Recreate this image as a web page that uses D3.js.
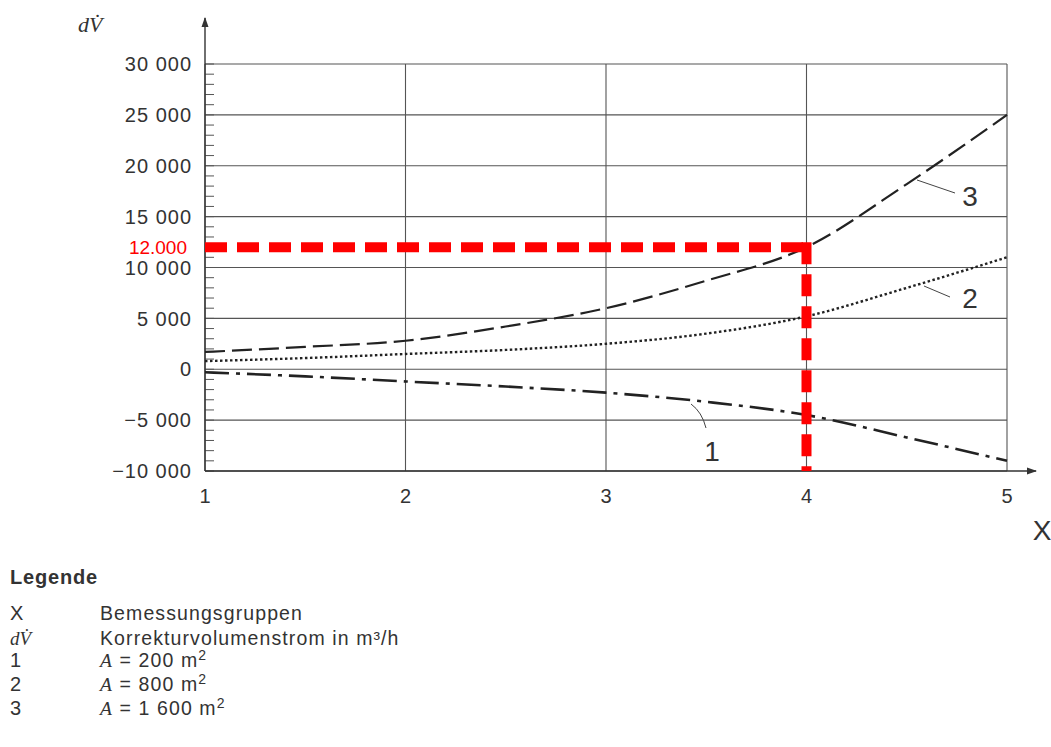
<!DOCTYPE html>
<html>
<head>
<meta charset="utf-8">
<script src="https://cdn.jsdelivr.net/npm/d3@7"></script>
<style>
  body { margin: 0; background: #fff; }
  svg { font-family: "Liberation Sans", Arial, sans-serif; }
</style>
</head>
<body>
<svg id="chart" width="1051" height="747"></svg>
<script>
// data
const xValues = [1, 1.5, 2, 2.5, 3, 3.5, 4, 4.5, 5];
const curve1 = [-300, -700, -1200, -1700, -2300, -3200, -4500, -6700, -9000];   // A = 200 m2
const curve2 = [800, 1100, 1500, 1900, 2500, 3500, 5200, 8000, 11000];        // A = 800 m2
const curve3 = [1700, 2200, 2800, 4200, 6000, 8700, 12000, 18200, 25000];     // A = 1 600 m2
const xTicks = [1, 2, 3, 4, 5];
const yTicks = [-10000, -5000, 0, 5000, 10000, 15000, 20000, 25000, 30000];
const markX = 4;
const markY = 12000;
const legendRows = [
  ["X", "Bemessungsgruppen"],
  ["dV", "Korrekturvolumenstrom in m³/h"],
  ["1", "A = 200 m2"],
  ["2", "A = 800 m2"],
  ["3", "A = 1 600 m2"]
];

const svg = d3.select("#chart");
const pLeft = 205, pRight = 1007, pTop = 64, pBottom = 471;

const x = d3.scaleLinear().domain([1, 5]).range([pLeft, pRight]);
const y = d3.scaleLinear().domain([-10000, 30000]).range([pBottom, pTop]);

const ink = "#333";

// grid
svg.append("g").selectAll("line")
  .data(yTicks)
  .enter().append("line")
  .attr("x1", pLeft).attr("x2", pRight)
  .attr("y1", d => y(d)).attr("y2", d => y(d))
  .attr("stroke", "#555").attr("stroke-width", 1.1);

svg.append("g").selectAll("line")
  .data(xTicks)
  .enter().append("line")
  .attr("x1", d => x(d)).attr("x2", d => x(d))
  .attr("y1", pTop).attr("y2", pBottom)
  .attr("stroke", "#555").attr("stroke-width", 1.1);

// minor ticks on y axis
svg.append("g").selectAll("line")
  .data(d3.range(-10000, 30001, 1000))
  .enter().append("line")
  .attr("x1", pLeft).attr("x2", pLeft + 9)
  .attr("y1", d => y(d)).attr("y2", d => y(d))
  .attr("stroke", "#555").attr("stroke-width", 1);

// axes with arrows
svg.append("defs").append("marker")
  .attr("id", "arrow")
  .attr("viewBox", "0 0 10 10")
  .attr("refX", 9).attr("refY", 5)
  .attr("markerWidth", 10).attr("markerHeight", 10)
  .attr("markerUnits", "userSpaceOnUse")
  .attr("orient", "auto")
  .append("path")
  .attr("d", "M0,1.5 L10,5 L0,8.5 Z")
  .attr("fill", ink);

svg.append("line")
  .attr("x1", pLeft).attr("x2", pLeft)
  .attr("y1", pBottom).attr("y2", 18)
  .attr("stroke", ink).attr("stroke-width", 1.4)
  .attr("marker-end", "url(#arrow)");

svg.append("line")
  .attr("x1", pLeft).attr("x2", 1036)
  .attr("y1", pBottom).attr("y2", pBottom)
  .attr("stroke", ink).attr("stroke-width", 1.4)
  .attr("marker-end", "url(#arrow)");

// tick labels
svg.append("g").selectAll("text")
  .data(yTicks)
  .enter().append("text")
  .attr("x", 192)
  .attr("y", d => y(d))
  .attr("dy", "0.36em")
  .attr("text-anchor", "end")
  .attr("font-size", 20)
  .attr("letter-spacing", 1)
  .attr("fill", ink)
  .text(d => d3.format(",")(d).replace(",", " ").replace("-", "\u2212"));

svg.append("g").selectAll("text")
  .data(xTicks)
  .enter().append("text")
  .attr("x", d => x(d))
  .attr("y", 503)
  .attr("text-anchor", "middle")
  .attr("font-size", 20)
  .attr("fill", ink)
  .text(d => d);

svg.append("text")
  .attr("x", 1042).attr("y", 540)
  .attr("text-anchor", "middle")
  .attr("font-size", 28)
  .attr("fill", ink)
  .text("X");

svg.append("text")
  .attr("x", 78).attr("y", 32)
  .attr("font-family", "'Liberation Serif', 'DejaVu Serif', serif")
  .attr("font-style", "italic")
  .attr("font-size", 22)
  .attr("fill", ink)
  .text("dV̇");

// curves
const line = d3.line()
  .x((d, i) => x(xValues[i]))
  .y(d => y(d))
  .curve(d3.curveMonotoneX);

svg.append("path")
  .attr("d", line(curve3))
  .attr("fill", "none").attr("stroke", "#222")
  .attr("stroke-width", 2.2)
  .attr("stroke-dasharray", "20,7");

svg.append("path")
  .attr("d", line(curve2))
  .attr("fill", "none").attr("stroke", "#222")
  .attr("stroke-width", 2.4)
  .attr("stroke-dasharray", "2.5,2.5");

svg.append("path")
  .attr("d", line(curve1))
  .attr("fill", "none").attr("stroke", "#222")
  .attr("stroke-width", 2.6)
  .attr("stroke-dasharray", "24,7,4,7");

// leader lines and curve numbers
const leaders = [
  { label: "3", path: "M917,180 L955,193", tx: 970, ty: 206 },
  { label: "2", path: "M924,286 L950,297", tx: 970, ty: 308 },
  { label: "1", path: "M691,404 Q702,412 706,428", tx: 712, ty: 461 }
];
leaders.forEach(l => {
  svg.append("path").attr("d", l.path)
    .attr("fill", "none").attr("stroke", "#444").attr("stroke-width", 1);
  svg.append("text").attr("x", l.tx).attr("y", l.ty)
    .attr("text-anchor", "middle")
    .attr("font-size", 28).attr("fill", ink)
    .text(l.label);
});

// red reference lines
const red = "#ff0000";
svg.append("line")
  .attr("x1", x(1)).attr("x2", x(markX))
  .attr("y1", y(markY)).attr("y2", y(markY))
  .attr("stroke", red).attr("stroke-width", 10)
  .attr("stroke-dasharray", "22,10");
svg.append("line")
  .attr("x1", x(markX)).attr("x2", x(markX))
  .attr("y1", y(markY) - 5).attr("y2", y(-10000))
  .attr("stroke", red).attr("stroke-width", 10)
  .attr("stroke-dasharray", "22,10");
svg.append("text")
  .attr("x", 187).attr("y", y(markY))
  .attr("dy", "0.36em")
  .attr("text-anchor", "end")
  .attr("font-size", 19)
  .attr("fill", red)
  .text("12.000");

// legend
svg.append("text")
  .attr("x", 10).attr("y", 584)
  .attr("font-size", 20).attr("font-weight", "bold")
  .attr("letter-spacing", 0.8)
  .attr("fill", ink)
  .text("Legende");

const rowY = [620, 645, 667, 691, 715];
legendRows.forEach((r, i) => {
  const g = svg.append("g");
  const key = g.append("text").attr("x", 10).attr("y", rowY[i])
    .attr("font-size", 20).attr("fill", ink);
  if (r[0] === "dV") {
    key.attr("font-family", "'Liberation Serif', serif").attr("font-style", "italic")
      .attr("font-size", 19).text("dV̇");
  } else {
    key.text(r[0]);
  }
  const val = g.append("text").attr("x", 100).attr("y", rowY[i])
    .attr("font-size", 19.5).attr("letter-spacing", 1.1).attr("fill", ink);
  if (r[1].startsWith("A = ")) {
    val.append("tspan").attr("font-family", "'Liberation Serif', serif")
      .attr("font-style", "italic").text("A");
    val.append("tspan").text(" = " + r[1].slice(4, -1));
    val.append("tspan").attr("font-size", 14).attr("dy", -7).text("2");
  } else {
    val.text(r[1]);
  }
});
</script>
</body>
</html>
